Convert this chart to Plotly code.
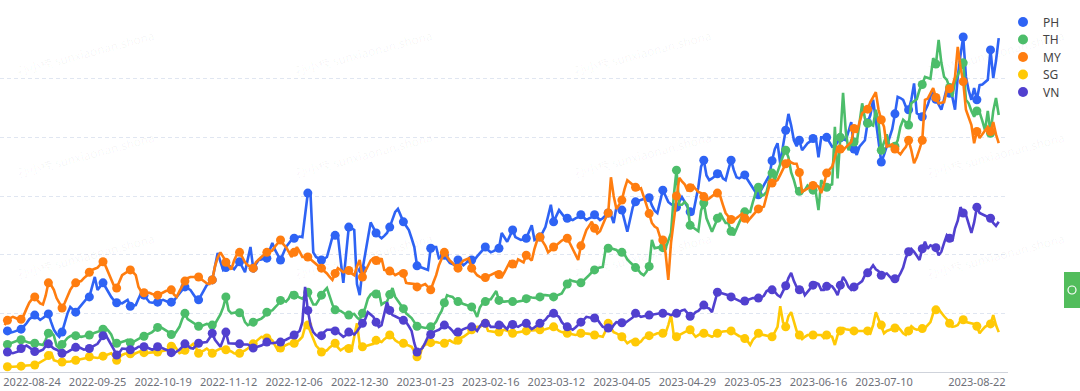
import plotly.graph_objects as go

# ---------------- data ----------------
tick_labels = ["2022-08-24", "2022-09-25", "2022-10-19", "2022-11-12", "2022-12-06",
               "2022-12-30", "2023-01-23", "2023-02-16", "2023-03-12", "2023-04-05",
               "2023-04-29", "2023-05-23", "2023-06-16", "2023-07-10", "2023-08-22"]
tick_index = [10, 34, 58, 82, 106, 130, 154, 178, 202, 226, 250, 274, 298, 322, 356]

ph = [72,70,67,68,70,71,73,78,83,90,
      94,97,93,89,92,96,99,85,72,65,
      60,68,85,100,111,106,102,108,114,120,
      125,128,145,162,140,146,152,144,135,128,
      122,118,118,117,120,123,112,113,114,125,
      135,131,125,119,118,119,119,121,123,121,
      119,119,122,128,135,140,145,143,140,133,
      126,123,131,140,148,152,157,180,203,188,
      174,178,182,178,175,182,188,179,170,192,
      213,177,184,191,192,193,194,207,220,208,
      200,191,202,213,219,225,228,230,231,230,
      268,305,302,204,196,193,191,193,196,213,
      230,233,233,191,152,200,247,245,242,150,
      131,174,202,230,255,246,237,232,228,232,
      237,247,260,273,278,267,256,249,242,228,
      213,181,179,177,176,174,211,213,213,194,
      196,199,192,186,184,182,191,186,182,186,
      191,191,191,197,203,208,213,208,204,206,
      208,211,237,230,222,232,242,230,228,225,
      226,228,239,250,225,228,230,238,247,266,
      285,256,266,276,270,264,262,261,259,262,
      264,268,263,259,262,264,268,263,259,262,
      266,271,268,254,281,278,276,258,239,260,
      281,290,292,293,295,296,297,284,275,271,
      290,310,300,290,286,283,281,290,298,290,
      280,273,268,290,315,350,361,335,327,330,
      334,338,341,330,327,345,361,344,332,330,
      333,336,328,320,312,306,302,310,320,328,
      335,360,380,390,355,385,412,440,420,395,
      385,395,378,385,390,393,398,400,366,400,
      400,400,392,384,385,392,399,397,395,410,
      426,380,370,384,390,395,425,438,464,430,
      400,358,370,385,400,414,440,469,467,464,
      452,447,464,492,441,438,435,445,455,470,
      476,465,455,447,465,484,475,469,447,503,
      540,571,503,480,464,484,464,489,490,494,
      498,549,501,530,569]

th = [45,47,49,50,52,54,55,53,51,50,
      50,49,48,47,46,55,66,68,62,45,
      40,47,53,58,61,63,62,61,60,61,
      62,63,65,67,68,70,73,75,70,64,
      52,49,50,51,53,55,50,51,54,56,
      59,61,63,65,68,72,76,77,74,72,
      68,64,63,70,77,90,100,90,87,85,
      81,78,78,80,82,81,80,82,90,98,
      110,128,105,100,101,102,101,98,85,80,
      82,85,87,89,91,95,102,104,105,110,
      115,122,122,120,125,135,131,129,127,125,
      130,136,125,115,115,123,131,138,143,130,
      115,106,105,104,101,98,97,98,99,93,
      89,100,109,125,132,135,133,136,115,118,
      120,132,143,128,122,115,108,100,96,92,
      85,78,77,76,75,76,77,80,86,96,
      104,118,131,129,128,123,120,118,116,114,
      112,111,104,94,110,117,120,123,124,132,
      138,122,120,120,121,121,120,119,120,121,
      122,125,128,127,126,126,128,131,131,131,
      130,128,130,132,134,142,150,157,155,154,
      153,152,156,160,165,170,174,177,178,179,
      208,211,211,209,208,203,204,200,192,187,
      183,178,174,168,165,171,180,225,211,212,
      213,212,211,224,237,300,344,285,285,290,
      285,250,247,244,240,275,288,262,250,239,
      250,262,271,262,254,254,240,233,245,255,
      265,273,273,273,290,305,315,300,302,307,
      327,339,327,340,356,368,378,366,340,327,
      310,308,307,310,318,314,310,307,276,327,
      320,315,318,320,418,330,400,476,410,378,
      392,392,390,425,458,432,424,422,420,447,
      425,378,390,405,385,385,385,395,418,430,
      425,421,458,461,465,481,490,503,502,500,
      535,525,566,527,503,498,485,469,495,505,
      515,527,464,458,445,435,445,443,428,412,
      445,407,445,467,438]

my = [80,88,92,94,92,90,90,97,108,118,
      124,128,122,117,115,130,152,148,140,126,
      118,109,118,130,140,147,152,154,155,160,
      164,170,174,176,178,183,188,180,170,158,
      147,143,155,165,168,171,174,170,165,145,
      137,135,135,135,133,132,131,133,136,138,
      139,140,132,128,138,148,155,160,162,162,
      162,162,158,155,151,150,157,180,195,204,
      196,187,181,175,190,200,204,196,187,182,
      179,177,187,192,196,200,204,206,207,214,
      220,225,218,213,205,196,204,213,205,196,
      196,196,192,188,184,180,177,172,168,162,
      157,168,177,174,170,172,173,168,165,180,
      191,162,172,182,190,194,190,186,194,174,
      173,172,170,165,167,170,168,152,151,150,
      150,145,146,148,150,145,140,153,165,182,
      193,204,197,190,186,180,177,185,190,192,
      194,177,170,165,162,160,161,163,165,168,
      170,166,162,170,179,188,184,180,192,190,
      187,199,195,190,210,225,230,222,215,204,
      208,213,217,220,224,226,228,219,210,200,
      191,215,230,242,249,256,245,236,240,252,
      262,271,332,300,278,285,293,312,327,323,
      319,315,311,313,300,285,270,254,248,245,
      230,225,203,157,220,260,300,331,325,320,
      310,314,318,312,307,305,299,293,296,300,
      303,305,300,285,271,265,260,259,262,266,
      270,262,256,262,268,272,278,280,282,300,
      318,322,324,327,336,345,355,361,357,355,
      355,340,307,310,312,315,318,319,316,305,
      320,339,345,350,366,383,380,378,383,388,
      392,415,408,425,441,445,448,460,470,477,
      447,430,418,384,386,388,380,375,371,378,
      384,395,378,356,366,380,395,464,466,475,
      484,468,458,459,460,480,483,486,503,554,
      520,495,447,435,421,390,410,399,405,412,
      418,410,426,405,390]

sg = [10,9,9,9,9,9,10,10,11,11,
      12,12,14,17,20,22,28,34,20,18,
      17,17,17,17,18,19,20,20,21,22,
      24,26,25,24,24,25,27,28,30,32,
      26,20,25,29,31,32,31,29,32,34,
      36,33,32,33,33,34,34,35,36,37,
      40,44,46,40,32,34,37,40,44,48,
      42,32,34,37,40,36,32,35,38,40,
      39,38,37,35,32,31,32,34,37,40,
      44,48,52,56,60,59,58,57,54,45,
      37,41,43,45,48,48,49,51,55,60,
      77,80,68,57,45,40,34,35,37,42,
      46,49,42,37,40,43,40,37,60,83,
      48,43,44,45,46,48,54,52,51,56,
      60,63,60,54,51,49,49,47,45,43,
      35,26,28,43,46,49,50,51,51,50,
      49,49,52,54,51,49,54,58,60,63,
      67,72,74,77,77,80,83,70,69,69,
      68,68,70,72,70,68,66,67,68,69,
      70,70,71,71,71,72,72,72,73,74,
      75,77,74,70,68,67,66,65,64,63,
      64,66,66,66,65,64,63,63,62,60,
      70,83,75,68,66,63,60,55,49,52,
      54,51,49,52,58,60,62,63,64,66,
      66,66,66,80,97,63,60,63,66,68,
      70,72,66,60,63,66,66,64,62,60,
      63,66,68,69,70,70,70,67,63,61,
      60,57,53,46,55,60,66,64,63,62,
      61,60,68,77,112,85,77,95,102,85,
      70,63,56,60,63,63,63,63,63,63,
      58,63,62,60,46,63,70,75,73,72,
      71,70,70,70,70,70,70,66,80,102,
      90,80,66,70,72,73,75,77,72,66,
      63,70,78,74,72,73,74,75,80,85,
      100,106,107,100,95,90,83,77,78,80,
      88,89,85,84,83,82,78,66,72,77,
      80,82,97,80,68]

vn = [36,34,33,32,34,35,40,42,45,42,
      38,35,34,36,38,44,48,44,40,38,
      35,32,33,34,37,40,42,43,40,38,
      39,40,43,46,48,55,62,63,55,48,
      38,29,33,40,40,39,38,38,40,43,
      43,43,42,40,38,40,43,42,40,38,
      36,33,32,35,38,43,48,45,41,40,
      45,49,50,50,51,58,66,55,48,43,
      55,68,49,49,49,49,48,47,47,47,
      44,41,42,43,45,48,51,50,49,50,
      51,51,53,55,57,60,63,66,70,85,
      145,105,80,68,63,60,62,68,72,72,
      72,70,68,64,60,63,68,67,64,69,
      75,83,90,102,98,94,85,77,80,98,
      119,105,97,95,92,90,88,85,78,70,
      49,34,37,41,50,60,64,68,70,72,
      76,80,78,75,70,64,68,71,73,75,
      76,77,75,70,78,83,83,83,77,77,
      77,80,83,77,73,83,81,79,77,80,
      82,83,78,73,76,80,83,86,89,95,
      98,100,97,94,85,80,77,74,72,76,
      80,85,89,94,93,92,92,90,83,77,
      76,75,72,80,85,85,84,83,86,89,
      93,100,97,94,95,96,97,98,99,100,
      100,100,100,99,97,98,100,102,105,106,
      100,95,97,102,104,110,114,110,108,102,
      118,136,135,134,132,131,128,126,123,121,
      119,121,123,124,126,126,126,127,130,138,
      140,140,137,131,128,137,147,160,169,155,
      145,140,143,131,137,143,148,152,150,140,
      140,146,148,146,140,131,148,162,155,145,
      140,145,148,152,155,165,169,175,182,175,
      172,165,166,168,163,158,159,160,168,178,
      195,205,210,205,198,191,210,222,210,216,
      214,212,199,205,220,233,228,223,245,258,
      281,271,268,252,237,255,281,271,269,267,
      265,262,254,249,256]

series_names = ["PH", "TH", "MY", "SG", "VN"]
series_values = [ph, th, my, sg, vn]
series_colors = ["#2e63f4", "#4cbd6a", "#ff7d0f", "#ffc905", "#5140cf"]

# ---------------- figure ----------------
W, H = 1080, 391
ML, MR, MT, MB = 0, 72, 20, 19
PW, PH_ = W - ML - MR, H - MT - MB

def px_x(p):
    return (p - ML) / PW

def px_y(p):
    return (H - MB - p) / PH_

fig = go.Figure()

for name, vals, col in zip(series_names, series_values, series_colors):
    xs = list(range(len(vals)))
    sizes = [9 if i % 5 == 1 else 0 for i in xs]
    fig.add_trace(go.Scatter(
        x=xs, y=vals, mode="lines+markers", name=name, showlegend=False,
        line=dict(color=col, width=2.6),
        marker=dict(color=col, size=sizes, opacity=1, line=dict(width=0)),
        hoverinfo="skip"))

# legend: one single-entry legend per series so the rows sit exactly as in the reference
legend_rows = [22, 39.5, 57, 74.5, 92]
legend_keys = ["legend", "legend2", "legend3", "legend4", "legend5"]
legend_layout = {}
for name, col, key, row in zip(series_names, series_colors, legend_keys, legend_rows):
    fig.add_trace(go.Scatter(
        x=[None], y=[None], mode="markers", name=name, legend=key,
        marker=dict(color=col, size=10, opacity=1)))
    legend_layout[key] = dict(
        x=px_x(1003), y=px_y(row), xanchor="left", yanchor="middle",
        font=dict(family="Noto Sans", size=12, color="#444"),
        bgcolor="rgba(0,0,0,0)", itemwidth=30)

# faint page watermark
wm_x = [13, 363, 715, 1068]
wm_y = [24, 154, 284]
for cy in wm_y:
    for cx in wm_x:
        fig.add_annotation(
            x=px_x(cx), y=px_y(cy), xref="paper", yref="paper",
            text="孙小楠 sunxiaonan.shona", showarrow=False, textangle=-15,
            font=dict(family="Noto Sans CJK SC", size=12, color="rgba(0,0,0,0.04)"))

# green floating side button (page UI)
fig.add_shape(type="rect", xref="paper", yref="paper",
              x0=px_x(1064), x1=px_x(1084), y0=px_y(308), y1=px_y(272),
              fillcolor="#52bd5c", line=dict(width=0), layer="above")
fig.add_shape(type="circle", xref="paper", yref="paper",
              x0=px_x(1068), x1=px_x(1076), y0=px_y(294), y1=px_y(286),
              fillcolor="rgba(0,0,0,0)", line=dict(color="white", width=1.2), layer="above")

fig.update_layout(
    width=W, height=H,
    margin=dict(l=ML, r=MR, t=MT, b=MB, autoexpand=False),
    paper_bgcolor="white", plot_bgcolor="white",
    font=dict(family="Noto Sans", size=11, color="#6e7079"),
    showlegend=True,
    xaxis=dict(range=[-1.72, 367.4], tickmode="array", tickvals=tick_index,
               ticktext=tick_labels, showgrid=False, zeroline=False,
               showline=True, linecolor="#cfd3db", linewidth=1, ticks="", ticklen=0,
               tickfont=dict(family="Noto Sans", size=11, color="#6e7079"),
               automargin=False, fixedrange=True),
    yaxis=dict(range=[0, 600], tickmode="array", tickvals=[100, 200, 300, 400, 500, 600],
               showgrid=True, gridcolor="#e0e6f1", gridwidth=1, griddash="4px,3px",
               zeroline=False, showline=False, showticklabels=False, ticks="",
               automargin=False, fixedrange=True),
    **legend_layout,
)

fig.write_html("out.html", config={"displayModeBar": False},
               post_script="document.body.style.margin='0';document.body.style.overflow='hidden';")
